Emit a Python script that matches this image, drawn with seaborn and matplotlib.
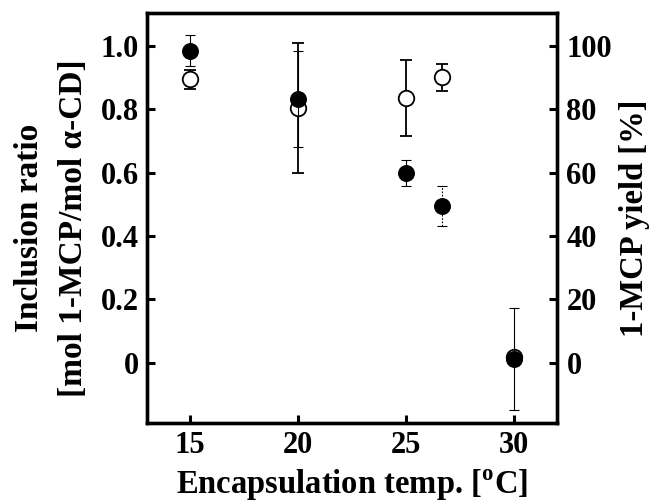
import numpy as np
import pandas as pd
import seaborn as sns
import matplotlib
matplotlib.use('Agg')
import matplotlib.pyplot as plt

# encapsulation temperatures (deg C)
temp = [15, 20, 25, 26.7, 30]

# inclusion ratio (filled circles, left axis)
ratio = [0.985, 0.832, 0.599, 0.495, 0.012]
ratio_err = [0.05, 0.15, 0.042, 0.062, 0.162]

# 1-MCP yield (open circles, right axis)
yld = [89.5, 80.4, 83.5, 90.1, 2.0]
yld_err = [3.0, 20.5, 12.0, 4.3, 1.0]

x_ticks = [15, 20, 25, 30]
left_ticks = [0, 0.2, 0.4, 0.6, 0.8, 1.0]
left_labels = ['0', '0.2', '0.4', '0.6', '0.8', '1.0']
right_ticks = [0, 20, 40, 60, 80, 100]

df_ratio = pd.DataFrame({'temp': temp, 'ratio': ratio})
df_yld = pd.DataFrame({'temp': temp, 'yield': yld})

sns.set_theme(style='ticks')
plt.rcParams['font.family'] = ['Liberation Serif', 'DejaVu Serif']
plt.rcParams['font.weight'] = 'bold'
plt.rcParams['text.color'] = 'black'
plt.rcParams['axes.labelcolor'] = 'black'
plt.rcParams['mathtext.fontset'] = 'custom'
plt.rcParams['mathtext.rm'] = 'Liberation Serif:bold'

fig = plt.figure(figsize=(6.53, 5.04), dpi=100)
ax = fig.add_axes([0.225, 0.161, 0.6275, 0.813])
ax2 = ax.twinx()

# open circles - yield on right axis
ax2.errorbar(temp, yld, yerr=yld_err, fmt='none', ecolor='black',
             elinewidth=1.3, capsize=4, capthick=1.3, zorder=2)
sns.scatterplot(data=df_yld, x='temp', y='yield', ax=ax2, s=125,
                color='white', edgecolor='black', linewidth=1.3, zorder=3)

# filled circles - inclusion ratio on left axis
eb = ax.errorbar(temp, ratio, yerr=ratio_err, fmt='none', ecolor='black',
                 elinewidth=0.8, capsize=3.5, capthick=0.8, zorder=2)
eb[2][0].set_linestyles(['solid', 'solid', 'solid', (0, (1.5, 1.5)), 'solid'])
sns.scatterplot(data=df_ratio, x='temp', y='ratio', ax=ax, s=125,
                color='black', edgecolor='black', linewidth=1.0, zorder=3)

# left axis drawn above the twin
ax.set_zorder(ax2.get_zorder() + 1)
ax.patch.set_visible(False)

ax.set_xlim(13, 32)
ax.set_ylim(-0.189, 1.103)
ax2.set_ylim(-18.9, 110.3)

ax.set_xticks(x_ticks)
ax.set_yticks(left_ticks)
ax.set_yticklabels(left_labels)
ax2.set_yticks(right_ticks)

ax.set_xlabel('Encapsulation temp. [$^{\\mathrm{o}}$C]', fontsize=23.5,
              fontweight='bold', labelpad=5)
ax.set_ylabel('Inclusion ratio\n[mol 1-MCP/mol α-CD]', fontsize=24,
              fontweight='bold', labelpad=8, linespacing=1.55)
ax.yaxis.label.set_y(0.476)
ax2.set_ylabel('1-MCP yield [%]', fontsize=23.5, fontweight='bold',
               rotation=90, labelpad=5)

for a in (ax, ax2):
    for sp in a.spines.values():
        sp.set_linewidth(2.4)
        sp.set_color('black')
ax.tick_params(axis='both', direction='in', length=6, width=2.2,
               labelsize=22, pad=6, colors='black', right=False, top=False)
ax2.tick_params(axis='y', direction='in', length=6, width=2.2,
                labelsize=22, pad=7, colors='black')
for lab in ax.get_xticklabels() + ax.get_yticklabels() + ax2.get_yticklabels():
    lab.set_fontweight('bold')

fig.savefig('out.png', dpi=100)
